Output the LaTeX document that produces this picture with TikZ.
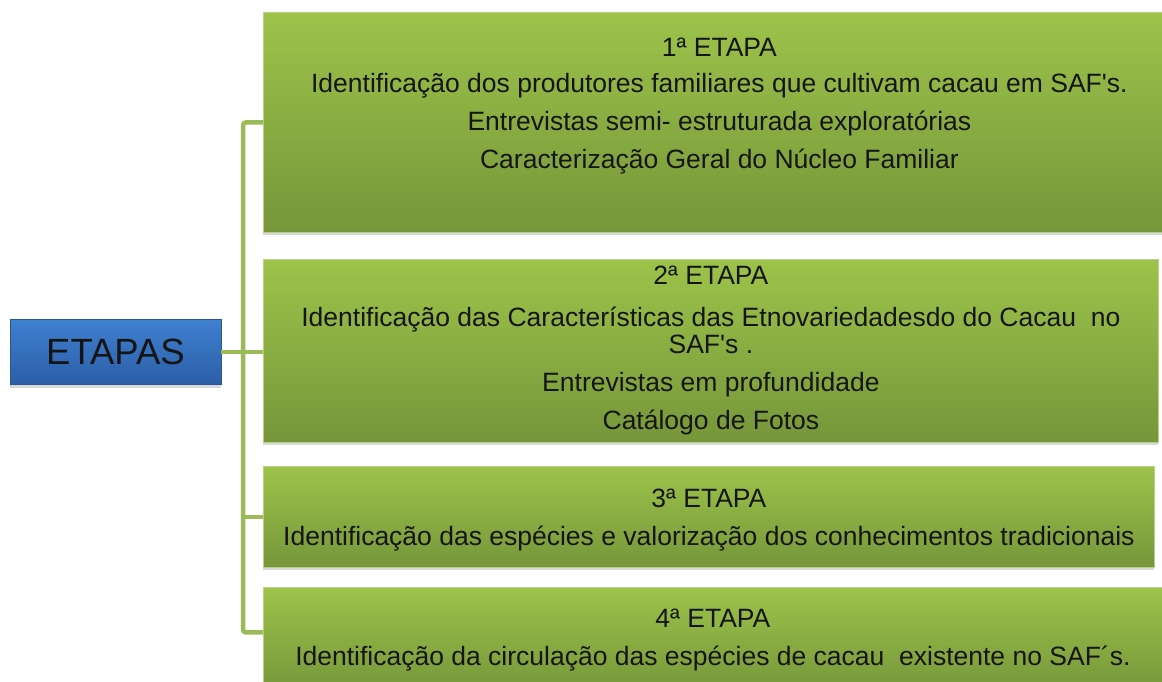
\documentclass[tikz,border=0pt]{standalone}
\usepackage{fontspec}
\setmainfont{Liberation Sans}
\usepackage{xcolor}
\usepackage{tikz}
\usetikzlibrary{positioning,shadows}
\definecolor{OliveTop}{HTML}{9DC34A}
\definecolor{OliveBottom}{HTML}{76963A}
\definecolor{OliveLine}{HTML}{9BBB59}
\definecolor{OliveEdge}{HTML}{B7CF86}
\definecolor{BlueTop}{HTML}{3F80D0}
\definecolor{BlueBottom}{HTML}{2B5EA8}
\definecolor{BlueEdge}{HTML}{2A5596}
\definecolor{TextDark}{HTML}{151515}

\tikzset{
    etapabox/.style={draw=OliveEdge, line width=0.8pt, top color=OliveTop, bottom color=OliveBottom,
        anchor=north west, inner sep=0pt, align=center, text=TextDark,
        font=\fontsize{26.5}{27}\selectfont,
        drop shadow={opacity=0.3, shadow xshift=0pt, shadow yshift=-3pt}},
    titlebox/.style={draw=BlueEdge, line width=0.8pt, top color=BlueTop, bottom color=BlueBottom,
        minimum width=211pt, minimum height=65pt, inner sep=0pt, text=TextDark,
        font=\fontsize{36.5}{40}\selectfont,
        drop shadow={opacity=0.3, shadow xshift=0pt, shadow yshift=-3pt}},
    liga/.style={draw=OliveLine, line width=4.5pt}
}

\begin{document}
\begin{tikzpicture}[x=1pt, y=-1pt]
    \useasboundingbox[fill=white] (0,0) rectangle (1162,682);

    \node[titlebox] (titulo) at (115.5,352) {ETAPAS};

    \node[etapabox, minimum width=912pt, minimum height=220pt] (e1) at (263,12) {
      1ª ETAPA\\[9pt]
      Identificação dos produtores familiares que cultivam cacau em SAF\textquotesingle s.\\[11pt]
      Entrevistas semi- estruturada exploratórias\\[11pt]
      Caracterização Geral do Núcleo Familiar\\[11pt]
      \mbox{}
    };
    \node[etapabox, minimum width=895pt, minimum height=183pt] (e2) at (263,259) {
      2ª ETAPA\\[15pt]
      Identificação das Características das Etnovariedadesdo do Cacau\ \ no\\
      SAF\textquotesingle s .\\[11pt]
      Entrevistas em profundidade\\[11pt]
      Catálogo de Fotos
    };
    \node[etapabox, minimum width=891pt, minimum height=101pt] (e3) at (263,466) {
      \rule{0pt}{24pt}3ª ETAPA\\[11pt]
      Identificação das espécies e valorização dos conhecimentos tradicionais
    };
    \node[etapabox, minimum width=899pt, minimum height=105pt] (e4) at (263,587) {
      4ª ETAPA\\[11pt]
      Identificação da circulação das espécies de cacau\ \ existente no SAF´s.
    };

    \draw[liga] (titulo.east) -- (titulo.east -| e2.west);
    \draw[liga, rounded corners=3pt] (e1.west) -- ++(-20,0) |- ([yshift=7.5pt]e4.west);
    \draw[liga] (e3.west) -- ++(-20,0);
\end{tikzpicture}
\end{document}
